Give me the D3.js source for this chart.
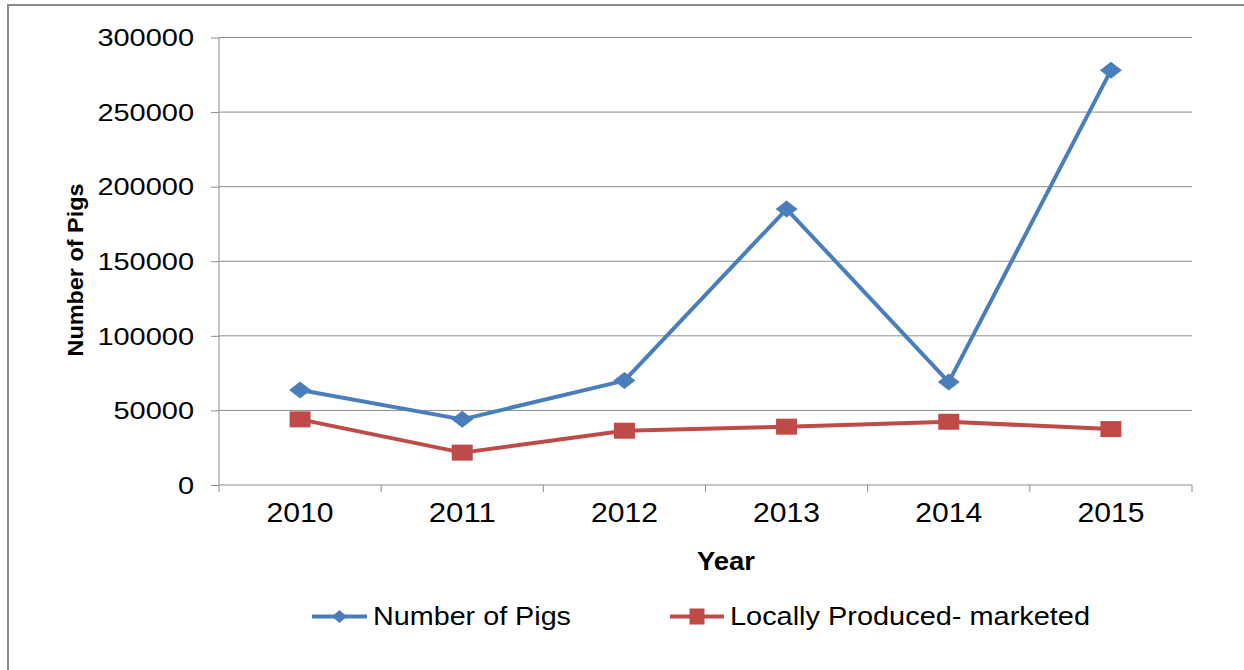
<!DOCTYPE html>
<html>
<head>
<meta charset="utf-8">
<script src="https://cdn.jsdelivr.net/npm/d3@7"></script>
<style>
  html, body { margin: 0; padding: 0; background: #fff; }
  svg { display: block; font-family: Arial, "Liberation Sans", sans-serif; }
</style>
</head>
<body>
<svg id="chart" width="1244" height="670"></svg>
<script>
// Pig counts per year
const years = ["2010", "2011", "2012", "2013", "2014", "2015"];
const numberOfPigs = [63700, 44000, 70000, 185000, 69000, 278000];
const locallyMarketed = [44000, 21700, 36400, 39100, 42400, 37500];
const yTicks = [0, 50000, 100000, 150000, 200000, 250000, 300000];
const seriesNames = ["Number of Pigs", "Locally Produced- marketed"];

const blue = "#4a7ebb";
const red = "#be4b48";
const gridColor = "#8c8c8c";

const svg = d3.select("#chart");

// outer frame (left and top edges)
svg.append("path")
  .attr("d", "M8,670 V5 H1244")
  .attr("fill", "none")
  .attr("stroke", "#8a8a8a")
  .attr("stroke-width", 2);

const x = d3.scaleBand().domain(years).range([219, 1192]).padding(0);
const y = d3.scaleLinear().domain([0, 300000]).range([485, 37.5]);
const cx = d => x(d) + x.bandwidth() / 2;

// horizontal gridlines
svg.append("g").selectAll("line")
  .data(yTicks.filter(t => t > 0))
  .join("line")
  .attr("x1", 219).attr("x2", 1192)
  .attr("y1", d => y(d)).attr("y2", d => y(d))
  .attr("stroke", gridColor).attr("stroke-width", 1);

// y axis
const yAxis = svg.append("g")
  .attr("transform", "translate(219,0)")
  .call(d3.axisLeft(y).tickValues(yTicks).tickSize(8).tickPadding(17).tickFormat(d3.format("d")));
yAxis.select(".domain").attr("stroke", gridColor).attr("d", `M0,${y(300000)}V${y(0)}`);
yAxis.selectAll(".tick line").attr("stroke", gridColor);
yAxis.selectAll(".tick text")
  .attr("fill", "#000")
  .style("font-size", "23px")
  .attr("dy", "0.36em")
  .attr("textLength", d => String(d).length * 16.1)
  .attr("lengthAdjust", "spacingAndGlyphs");

// x axis: baseline, boundary ticks, and year labels
svg.append("line")
  .attr("x1", 219).attr("x2", 1192)
  .attr("y1", y(0)).attr("y2", y(0))
  .attr("stroke", gridColor);
const bounds = years.map(d => x(d)).concat([x(years[years.length - 1]) + x.bandwidth()]);
svg.append("g").selectAll("line")
  .data(bounds)
  .join("line")
  .attr("x1", d => d).attr("x2", d => d)
  .attr("y1", y(0)).attr("y2", y(0) + 7)
  .attr("stroke", gridColor);
svg.append("g").selectAll("text")
  .data(years)
  .join("text")
  .attr("x", d => cx(d))
  .attr("y", 521.5)
  .attr("text-anchor", "middle")
  .style("font-size", "27px")
  .attr("textLength", 67)
  .attr("lengthAdjust", "spacingAndGlyphs")
  .text(d => d);

// axis titles
svg.append("text")
  .attr("x", 726).attr("y", 570)
  .attr("text-anchor", "middle")
  .style("font-size", "25px").style("font-weight", "bold")
  .attr("textLength", 58).attr("lengthAdjust", "spacingAndGlyphs")
  .text("Year");
svg.append("text")
  .attr("transform", "translate(83,270) rotate(-90)")
  .attr("text-anchor", "middle")
  .style("font-size", "22px").style("font-weight", "bold")
  .attr("textLength", 173).attr("lengthAdjust", "spacingAndGlyphs")
  .text("Number of Pigs");

// series lines and markers
const line = d3.line().x(d => cx(d.year)).y(d => y(d.value));
const pigData = years.map((yr, i) => ({ year: yr, value: numberOfPigs[i] }));
const marketData = years.map((yr, i) => ({ year: yr, value: locallyMarketed[i] }));

const diamond = (w, h) => `M0,${-h / 2}L${w / 2},0L0,${h / 2}L${-w / 2},0Z`;

svg.append("path").datum(marketData)
  .attr("d", line).attr("fill", "none")
  .attr("stroke", red).attr("stroke-width", 4).attr("stroke-linejoin", "round");
svg.append("g").selectAll("rect")
  .data(marketData)
  .join("rect")
  .attr("x", d => cx(d.year) - 10.5)
  .attr("y", d => y(d.value) - 8)
  .attr("width", 21).attr("height", 16)
  .attr("fill", red);

svg.append("path").datum(pigData)
  .attr("d", line).attr("fill", "none")
  .attr("stroke", blue).attr("stroke-width", 4).attr("stroke-linejoin", "round");
svg.append("g").selectAll("path")
  .data(pigData)
  .join("path")
  .attr("transform", d => `translate(${cx(d.year)},${y(d.value)})`)
  .attr("d", diamond(22, 17))
  .attr("fill", blue);

// legend
const legend = svg.append("g");
const legendItems = [
  { name: seriesNames[0], color: blue, x1: 312, x2: 367, text: 373, width: 198, marker: "diamond" },
  { name: seriesNames[1], color: red, x1: 670, x2: 724, text: 730, width: 360, marker: "square" }
];
legendItems.forEach(it => {
  const ly = 616.5;
  legend.append("line")
    .attr("x1", it.x1).attr("x2", it.x2).attr("y1", ly).attr("y2", ly)
    .attr("stroke", it.color).attr("stroke-width", 4);
  const mx = (it.x1 + it.x2) / 2;
  if (it.marker === "diamond") {
    legend.append("path")
      .attr("transform", `translate(${mx},${ly})`)
      .attr("d", diamond(15, 13)).attr("fill", it.color);
  } else {
    legend.append("rect")
      .attr("x", mx - 7.5).attr("y", ly - 8).attr("width", 15).attr("height", 16)
      .attr("fill", it.color);
  }
  legend.append("text")
    .attr("x", it.text).attr("y", 625)
    .style("font-size", "25.5px")
    .attr("textLength", it.width).attr("lengthAdjust", "spacingAndGlyphs")
    .text(it.name);
});
</script>
</body>
</html>
